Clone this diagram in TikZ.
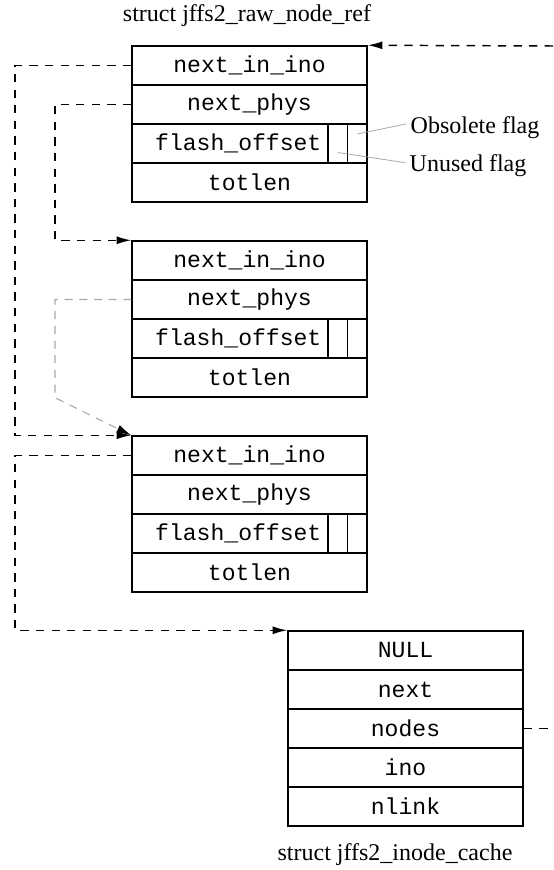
\documentclass[tikz,border=0pt]{standalone}
\usepackage{fontspec}
\setmainfont{Liberation Serif}
\newfontfamily\monofam{Liberation Mono}
\usetikzlibrary{calc,positioning,arrows.meta}
\definecolor{mgray}{HTML}{A8A8A8}
\tikzstyle{l2}=[line width=1.1pt]
\tikzstyle{lbl}=[font=\fontsize{18}{21}\selectfont]
\tikzstyle{field}=[rectangle, draw=black, l2, minimum width=176.25pt, minimum height=29.25pt, inner sep=0pt, font=\monofam\fontsize{17.3}{20}\selectfont]
\tikzstyle{flashf}=[field, minimum width=147pt, text width=137pt, inner xsep=5pt, align=right]
\tikzstyle{flagf}=[field, minimum width=14.625pt]
\tikzstyle{dl}=[l2, dash pattern=on 6.2pt off 5.5pt]
\tikzstyle{gl}=[line width=0.8pt, mgray, dash pattern=on 6pt off 5pt]
\tikzstyle{fl}=[line width=0.6pt, mgray]

\begin{document}
\begin{tikzpicture}[x=0.75pt, y=-0.75pt, >={Latex[length=11pt,width=6pt]}]
    \useasboundingbox (0,0) rectangle (553,870);
    \coordinate (lft) at (15,0);
    \coordinate (mid) at (55,0);
    \coordinate (inr) at (553,46);
    \coordinate (outr) at (553,728.5);

    \node[lbl] (t1) at (247,16) {struct jffs2\_raw\_node\_ref};
    \node[lbl] (t4) at (395,855) {struct jffs2\_inode\_cache};

    \begin{scope}[shift={(132,46)}]
        \node[field] at (117.5,19.5) (a1) {next\_in\_ino};
        \node[field] at (117.5,58.5) (b1) {next\_phys};
        \node[flashf] at (98,97.5) (c1) {flash\_offset};
        \node[flagf] at (205.75,97.5) (u1) {};
        \node[flagf] at (225.25,97.5) (o1) {};
        \node[field] at (117.5,136.5) (d1) {totlen};
    \end{scope}

    \begin{scope}[shift={(132,241)}]
        \node[field] at (117.5,19.5) (a2) {next\_in\_ino};
        \node[field] at (117.5,58.5) (b2) {next\_phys};
        \node[flashf] at (98,97.5) (c2) {flash\_offset};
        \node[flagf] at (205.75,97.5) (u2) {};
        \node[flagf] at (225.25,97.5) (o2) {};
        \node[field] at (117.5,136.5) (d2) {totlen};
    \end{scope}

    \begin{scope}[shift={(132,436)}]
        \node[field] at (117.5,19.5) (a3) {next\_in\_ino};
        \node[field] at (117.5,58.5) (b3) {next\_phys};
        \node[flashf] at (98,97.5) (c3) {flash\_offset};
        \node[flagf] at (205.75,97.5) (u3) {};
        \node[flagf] at (225.25,97.5) (o3) {};
        \node[field] at (117.5,136.5) (d3) {totlen};
    \end{scope}

    \begin{scope}[shift={(288,631)}]
        \node[field] at (117.5,19.5) (null4) {NULL};
        \node[field] at (117.5,58.5) (next4) {next};
        \node[field] at (117.5,97.5) (nodes4) {nodes};
        \node[field] at (117.5,136.5) (ino4) {ino};
        \node[field] at (117.5,175.5) (nlink4) {nlink};
    \end{scope}

    % flag labels
    \node[lbl, anchor=west] (obs) at (406,128) {Obsolete flag};
    \node[lbl, anchor=west] (unu) at (405,166) {Unused flag};
    \draw[fl] ($(o1.center)+(0,-9.5)$) -- ([yshift=3pt]obs.west);
    \draw[fl] ($(u1.center)+(0,9)$) -- ([yshift=2.5pt]unu.west);

    % links
    \draw[gl, -{Latex[length=11pt,width=6pt,color=black]}] (b2.west) -- (b2.west -| mid) -- (mid |- d2.south) -- (a3.north west);
    \draw[dl, ->] (inr) -- (a1.north east);
    \draw[dl, ->] (a1.west) -- (a1.west -| lft) |- (a3.north west);
    \draw[dl, ->] (b1.west) -- (b1.west -| mid) |- (a2.north west);
    \draw[dl, ->] (a3.west) -- (a3.west -| lft) |- (null4.north west);
    \draw[dl] (nodes4.east) -- (outr);
\end{tikzpicture}
\end{document}
